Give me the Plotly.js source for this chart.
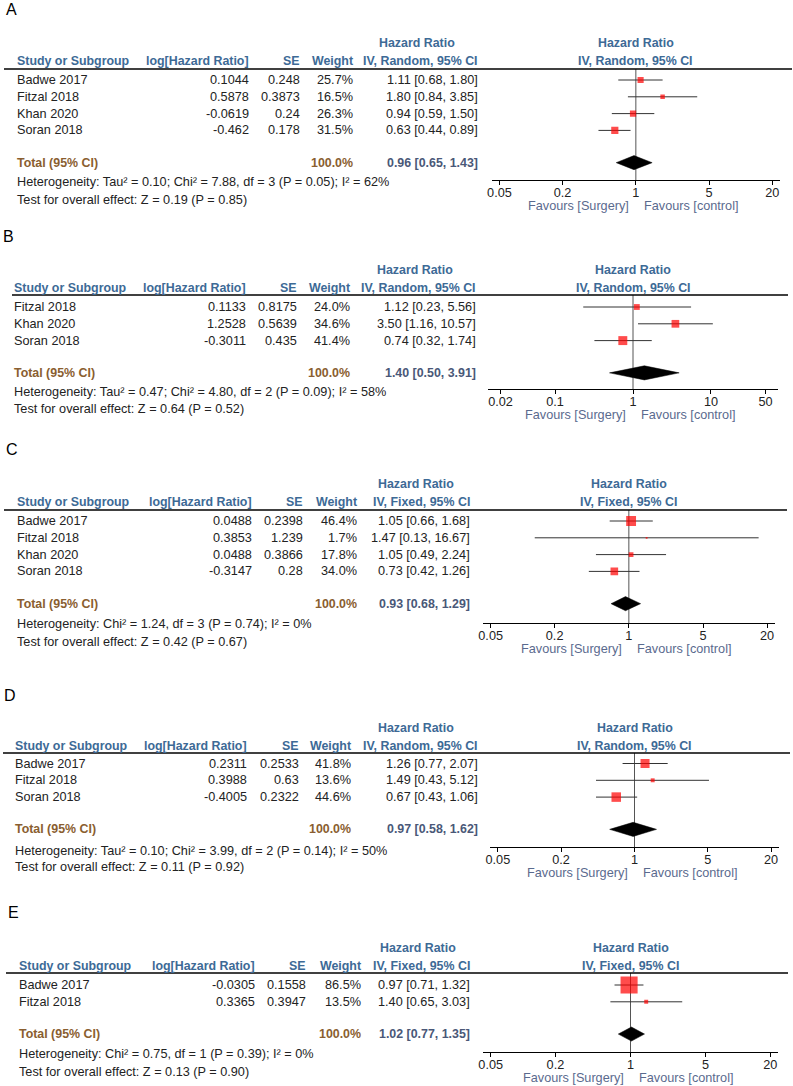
<!DOCTYPE html>
<html>
<head>
<meta charset="utf-8">
<script src="https://cdn.plot.ly/plotly-3.0.1.min.js"></script>
<style>body{margin:0;background:#fff}</style>
</head>
<body>
<div id="forest-plot"></div>
<script>
// A
var studiesA = ["Badwe 2017", "Fitzal 2018", "Khan 2020", "Soran 2018"];
var logHrA = [0.1044, 0.5878, -0.0619, -0.462];
var seA = [0.248, 0.3873, 0.24, 0.178];
var weightA = [25.7, 16.5, 26.3, 31.5];
var hrA = [1.11, 1.80, 0.94, 0.63];
var lowA = [0.68, 0.84, 0.59, 0.44];
var highA = [1.80, 3.85, 1.50, 0.89];
var totalA = [0.96, 0.65, 1.43];
var hetA = "Heterogeneity: Tau² = 0.10; Chi² = 7.88, df = 3 (P = 0.05); I² = 62%";
var testA = "Test for overall effect: Z = 0.19 (P = 0.85)";

// B
var studiesB = ["Fitzal 2018", "Khan 2020", "Soran 2018"];
var logHrB = [0.1133, 1.2528, -0.3011];
var seB = [0.8175, 0.5639, 0.435];
var weightB = [24.0, 34.6, 41.4];
var hrB = [1.12, 3.50, 0.74];
var lowB = [0.23, 1.16, 0.32];
var highB = [5.56, 10.57, 1.74];
var totalB = [1.40, 0.50, 3.91];
var hetB = "Heterogeneity: Tau² = 0.47; Chi² = 4.80, df = 2 (P = 0.09); I² = 58%";
var testB = "Test for overall effect: Z = 0.64 (P = 0.52)";

// C
var studiesC = ["Badwe 2017", "Fitzal 2018", "Khan 2020", "Soran 2018"];
var logHrC = [0.0488, 0.3853, 0.0488, -0.3147];
var seC = [0.2398, 1.239, 0.3866, 0.28];
var weightC = [46.4, 1.7, 17.8, 34.0];
var hrC = [1.05, 1.47, 1.05, 0.73];
var lowC = [0.66, 0.13, 0.49, 0.42];
var highC = [1.68, 16.67, 2.24, 1.26];
var totalC = [0.93, 0.68, 1.29];
var hetC = "Heterogeneity: Chi² = 1.24, df = 3 (P = 0.74); I² = 0%";
var testC = "Test for overall effect: Z = 0.42 (P = 0.67)";

// D
var studiesD = ["Badwe 2017", "Fitzal 2018", "Soran 2018"];
var logHrD = [0.2311, 0.3988, -0.4005];
var seD = [0.2533, 0.63, 0.2322];
var weightD = [41.8, 13.6, 44.6];
var hrD = [1.26, 1.49, 0.67];
var lowD = [0.77, 0.43, 0.43];
var highD = [2.07, 5.12, 1.06];
var totalD = [0.97, 0.58, 1.62];
var hetD = "Heterogeneity: Tau² = 0.10; Chi² = 3.99, df = 2 (P = 0.14); I² = 50%";
var testD = "Test for overall effect: Z = 0.11 (P = 0.92)";

// E
var studiesE = ["Badwe 2017", "Fitzal 2018"];
var logHrE = [-0.0305, 0.3365];
var seE = [0.1558, 0.3947];
var weightE = [86.5, 13.5];
var hrE = [0.97, 1.40];
var lowE = [0.71, 0.65];
var highE = [1.32, 3.03];
var totalE = [1.02, 0.77, 1.35];
var hetE = "Heterogeneity: Chi² = 0.75, df = 1 (P = 0.39); I² = 0%";
var testE = "Test for overall effect: Z = 0.13 (P = 0.90)";

var ticks = [0.05, 0.2, 1, 5, 20];
var ticksB = [0.02, 0.1, 1, 10, 50];
var random = "IV, Random, 95% CI";
var fixed = "IV, Fixed, 95% CI";
var totalWeight = "100.0%";

var W = 793, H = 1086, ROW = 16.8;
var FONT = "Liberation Sans, Arial, sans-serif";
var HEAD = "#3d6a96", TOT = "#8a5e30", FAV = "#5a6a8e";

var panels = [
  {letter: "A", studies: studiesA, logHr: logHrA, se: seA, weight: weightA, hr: hrA, low: lowA, high: highA,
   total: totalA, method: random, het: hetA, test: testA, ticks: ticks, range: 1.375,
   top: 69, row0: 80, axis: 180, xl: 491.7, xr: 780, ly: 10, h1: 43, h2: 61, hy: 182, ty: 200,
   left: 15, cols: [251, 302, 355, 480], hrMid: 417, lineL: 4, lineR: 792},
  {letter: "B", studies: studiesB, logHr: logHrB, se: seB, weight: weightB, hr: hrB, low: lowB, high: highB,
   total: totalB, method: random, het: hetB, test: testB, ticks: ticksB, range: 1.86,
   top: 295, row0: 307, axis: 389, xl: 488, xr: 778, ly: 236, h1: 270, h2: 288, hy: 392, ty: 409,
   left: 12, cols: [248, 299, 352, 478], hrMid: 415, lineL: 12, lineR: 788},
  {letter: "C", studies: studiesC, logHr: logHrC, se: seC, weight: weightC, hr: hrC, low: lowC, high: highC,
   total: totalC, method: fixed, het: hetC, test: testC, ticks: ticks, range: 1.376,
   top: 510, row0: 521, axis: 623, xl: 482.7, xr: 775, ly: 450, h1: 484, h2: 502, hy: 624, ty: 642,
   left: 15, cols: [254, 305, 359, 472], hrMid: 415.5, lineL: 4, lineR: 787},
  {letter: "D", studies: studiesD, logHr: logHrD, se: seD, weight: weightD, hr: hrD, low: lowD, high: highD,
   total: totalD, method: random, het: hetD, test: testD, ticks: ticks, range: 1.376,
   top: 753, row0: 763.5, axis: 847, xl: 490, xr: 779, ly: 695, h1: 728, h2: 746, hy: 851, ty: 867,
   left: 13, cols: [249, 301, 353, 480], hrMid: 416, lineL: 3, lineR: 790},
  {letter: "E", studies: studiesE, logHr: logHrE, se: seE, weight: weightE, hr: hrE, low: lowE, high: highE,
   total: totalE, method: fixed, het: hetE, test: testE, ticks: ticks, range: 1.37,
   top: 973, row0: 985, axis: 1052, xl: 483.3, xr: 777.7, ly: 912, h1: 948, h2: 966, hy: 1054, ty: 1072,
   left: 17, cols: [257, 308, 363, 472], hrMid: 418, lineL: 6, lineR: 788}
];

function px(x) { return x / W; }
function py(y) { return 1 - y / H; }
function ci(v, lo, hi) { return v.toFixed(2) + " [" + lo.toFixed(2) + ", " + hi.toFixed(2) + "]"; }

var traces = [], shapes = [], annotations = [];
var layout = {width: W, height: H, margin: {l: 0, r: 0, t: 0, b: 0}, showlegend: false,
              paper_bgcolor: "#fff", plot_bgcolor: "rgba(0,0,0,0)", hovermode: false,
              font: {family: FONT, size: 12.7, color: "#222"}};

function note(text, x, y, opts) {
  var a = {text: text, x: x, y: y, xref: "paper", yref: "paper", showarrow: false,
           xanchor: "left", yanchor: "middle", font: {family: FONT, size: 12.7, color: "#222"}};
  for (var k in opts) a[k] = opts[k];
  annotations.push(a);
}

panels.forEach(function (p, i) {
  var n = i + 1;
  var xr = n == 1 ? "x" : "x" + n, yr = n == 1 ? "y" : "y" + n;
  var xName = n == 1 ? "xaxis" : "xaxis" + n, yName = n == 1 ? "yaxis" : "yaxis" + n;
  var idx = p.studies.map(function (s, j) { return j; });
  var totIdx = p.studies.length - 1 + 1.92;

  layout[xName] = {type: "log", domain: [px(p.xl), px(p.xr)], range: [-p.range, p.range], anchor: yr,
                   showgrid: false, zeroline: false, showline: true, linecolor: "#000", linewidth: 1,
                   ticks: "outside", ticklen: 4, tickcolor: "#000", tickwidth: 1, ticklabelstandoff: -3,
                   tickvals: p.ticks, ticktext: p.ticks.map(String),
                   tickfont: {family: FONT, size: 12.7, color: "#222"}};
  layout[yName] = {domain: [py(p.axis), py(p.top)], range: [(p.axis - p.row0) / ROW, (p.top - p.row0) / ROW],
                   anchor: xr, visible: false, showgrid: false, zeroline: false};

  traces.push({x: p.hr, y: idx, xaxis: xr, yaxis: yr, type: "scatter", mode: "markers",
               marker: {symbol: "square", color: "#ff0000",
                        size: p.weight.map(function (w) { return 1.5 + 0.18 * w; }), line: {width: 0}},
               error_x: {type: "data", symmetric: false,
                         array: p.high.map(function (h, j) { return h - p.hr[j]; }),
                         arrayminus: p.low.map(function (l, j) { return p.hr[j] - l; }),
                         color: "#333", thickness: 1, width: 0}});

  var t = p.total, d = 0.42;
  traces.push({x: [t[1], t[0], t[2], t[0], t[1]], y: [totIdx, totIdx - d, totIdx, totIdx + d, totIdx],
               xaxis: xr, yaxis: yr, type: "scatter", mode: "lines", fill: "toself",
               fillcolor: "#000", line: {color: "#000", width: 0.5}});

  shapes.push({type: "line", xref: xr, yref: yr + " domain", x0: 1, x1: 1, y0: 0, y1: 1,
               line: {color: "#555", width: 1}, layer: "below"});
  shapes.push({type: "line", xref: "paper", yref: "paper", x0: px(p.lineL), x1: px(p.lineR),
               y0: py(p.top), y1: py(p.top), line: {color: "#000", width: 1.5}});

  // log axis: annotation x is log10(1) = 0
  var bold = {family: FONT, size: 12.4, color: HEAD};
  note(p.letter, px(p.left - 11), py(p.ly), {font: {family: FONT, size: 16, color: "#000"}});
  note("<b>Hazard Ratio</b>", px(p.hrMid), py(p.h1), {xanchor: "center", font: bold});
  note("<b>Hazard Ratio</b>", 0, py(p.h1), {xref: xr, xanchor: "center", font: bold});
  note("<b>Study or Subgroup</b>", px(p.left), py(p.h2), {font: bold});
  note("<b>log[Hazard Ratio]</b>", px(p.cols[0]), py(p.h2), {xanchor: "right", font: bold});
  note("<b>SE</b>", px(p.cols[1]), py(p.h2), {xanchor: "right", font: bold});
  note("<b>Weight</b>", px(p.cols[2]), py(p.h2), {xanchor: "right", font: bold});
  note("<b>" + p.method + "</b>", px(p.cols[3]), py(p.h2), {xanchor: "right", font: bold});
  note("<b>" + p.method + "</b>", 0, py(p.h2), {xref: xr, xanchor: "center", font: bold});

  p.studies.forEach(function (s, j) {
    note(s, px(p.left), j, {yref: yr});
    note(String(p.logHr[j]), px(p.cols[0]), j, {yref: yr, xanchor: "right"});
    note(String(p.se[j]), px(p.cols[1]), j, {yref: yr, xanchor: "right"});
    note(p.weight[j].toFixed(1) + "%", px(p.cols[2]), j, {yref: yr, xanchor: "right"});
    note(ci(p.hr[j], p.low[j], p.high[j]), px(p.cols[3]), j, {yref: yr, xanchor: "right"});
  });

  var tf = {family: FONT, size: 12.4, color: TOT};
  note("<b>Total (95% CI)</b>", px(p.left), totIdx, {yref: yr, font: tf});
  note("<b>" + totalWeight + "</b>", px(p.cols[2]), totIdx, {yref: yr, xanchor: "right", font: tf});
  note("<b>" + ci(t[0], t[1], t[2]) + "</b>", px(p.cols[3]), totIdx, {yref: yr, xanchor: "right",
       font: {family: FONT, size: 12.4, color: "#4a5878"}});

  note(p.het, px(p.left), py(p.hy), {});
  note(p.test, px(p.left), py(p.ty), {});

  var fav = {family: FONT, size: 12.7, color: FAV};
  note("Favours [Surgery]", 0, py(p.axis + 26), {xref: xr, xanchor: "right", xshift: -5, font: fav});
  note("Favours [control]", 0, py(p.axis + 26), {xref: xr, xanchor: "left", xshift: 6, font: fav});
});

layout.shapes = shapes;
layout.annotations = annotations;

Plotly.newPlot("forest-plot", traces, layout, {staticPlot: true});
</script>
</body>
</html>
